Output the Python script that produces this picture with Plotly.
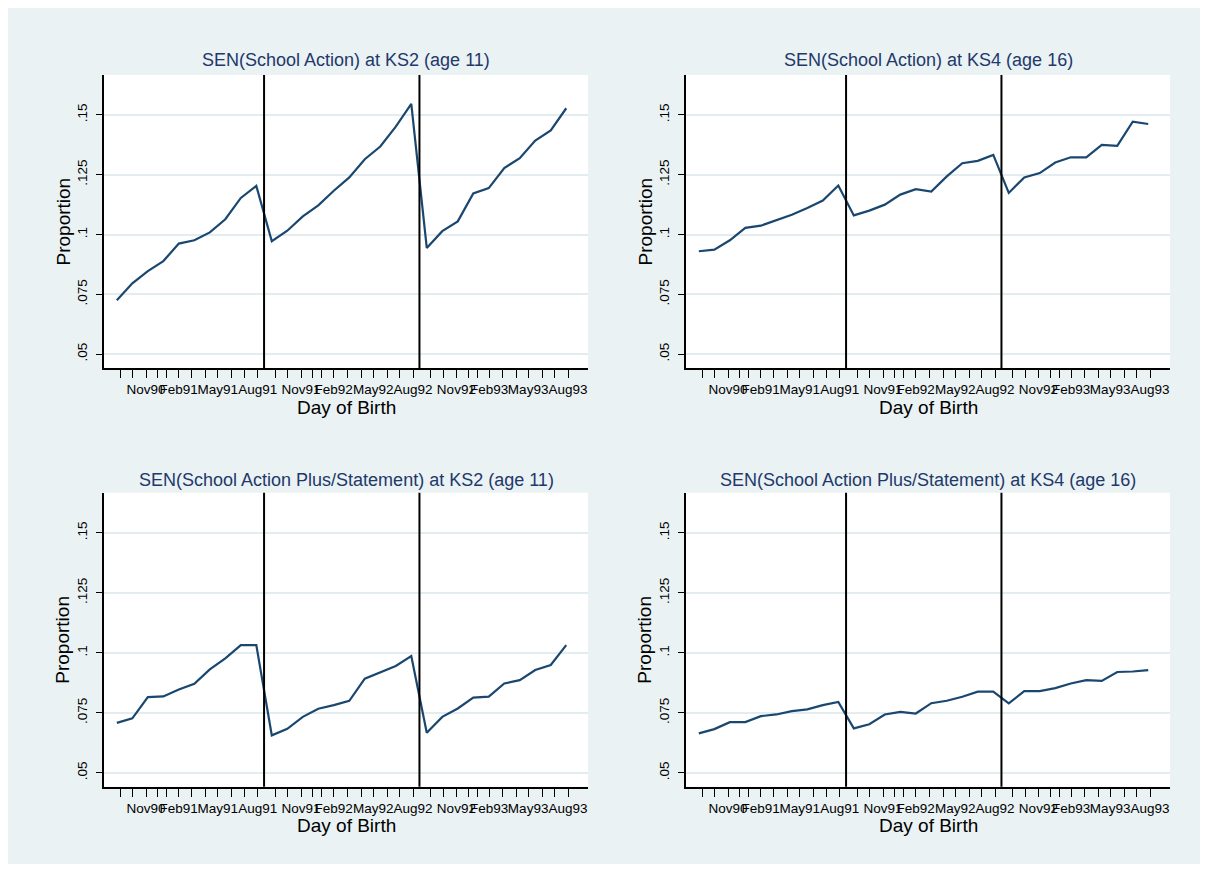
import pandas as pd
import plotly.graph_objects as go

# ---------------- data ----------------
panel_titles = [
    "SEN(School Action) at KS2 (age 11)",
    "SEN(School Action) at KS4 (age 16)",
    "SEN(School Action Plus/Statement) at KS2 (age 11)",
    "SEN(School Action Plus/Statement) at KS4 (age 16)",
]

# 30 birth-date bins (10 per academic year, Sep 1990 - Aug 1993)
bin_index = list(range(30))
period_start = "1990-09-01"
bins_per_year = 10

sa_ks2 = [0.0725, 0.0796, 0.0847, 0.0889, 0.0962, 0.0976, 0.1009, 0.1064, 0.1153, 0.1203,
          0.0972, 0.1016, 0.1076, 0.1122, 0.1183, 0.1239, 0.1315, 0.1368, 0.1451, 0.1546,
          0.0944, 0.1014, 0.1055, 0.1172, 0.1194, 0.1278, 0.1319, 0.1393, 0.1435, 0.1528]

sa_ks4 = [0.0930, 0.0937, 0.0976, 0.1028, 0.1037, 0.1060, 0.1083, 0.1111, 0.1142, 0.1205,
          0.1080, 0.1100, 0.1125, 0.1167, 0.1190, 0.1180, 0.1243, 0.1298, 0.1308, 0.1333,
          0.1174, 0.1239, 0.1257, 0.1301, 0.1323, 0.1323, 0.1375, 0.1371, 0.1472, 0.1462]

sap_ks2 = [0.0708, 0.0727, 0.0815, 0.0818, 0.0847, 0.0871, 0.0931, 0.0977, 0.1032, 0.1032,
           0.0656, 0.0683, 0.0733, 0.0767, 0.0782, 0.0800, 0.0892, 0.0917, 0.0945, 0.0986,
           0.0667, 0.0733, 0.0768, 0.0813, 0.0817, 0.0872, 0.0886, 0.0928, 0.0949, 0.1032]

sap_ks4 = [0.0664, 0.0682, 0.0711, 0.0711, 0.0736, 0.0743, 0.0757, 0.0764, 0.0782, 0.0795,
           0.0685, 0.0702, 0.0743, 0.0754, 0.0747, 0.0790, 0.0800, 0.0817, 0.0838, 0.0838,
           0.0789, 0.0840, 0.0840, 0.0853, 0.0872, 0.0886, 0.0883, 0.0920, 0.0922, 0.0928]

series = [sa_ks2, sa_ks4, sap_ks2, sap_ks4]

cohort_boundaries = ["1991-09-01", "1992-09-01"]

tick_dates = []
tick_labels = []
for yr in (1990, 1991, 1992):
    nx = yr + 1
    tick_dates += [f"{yr}-09-27", f"{yr}-10-27", f"{yr}-11-27", f"{yr}-12-25",
                   f"{nx}-01-15", f"{nx}-02-12", f"{nx}-03-15", f"{nx}-04-17",
                   f"{nx}-05-15", f"{nx}-06-17", f"{nx}-07-17", f"{nx}-08-17"]
    yy = str(yr)[-2:]
    ny = str(nx)[-2:]
    tick_labels += ["", "", f"Nov{yy}", "", "", f"Feb{ny}", "", "", f"May{ny}", "", "", f"Aug{ny}"]

y_tickvals = [0.05, 0.075, 0.1, 0.125, 0.15]
y_ticktext = [".05", ".075", ".1", ".125", ".15"]

x_title = "Day of Birth"
y_title = "Proportion"

# ---------------- figure ----------------
W, H = 1192, 856
start = pd.Timestamp(period_start)
days_per_bin = 365.0 / bins_per_year
x_dates = [start + pd.Timedelta(days=days_per_bin * (i + 0.5)) for i in bin_index]

x_range = [start - pd.Timedelta(days=12), start + pd.Timedelta(days=1128)]
y_range = [0.0442, 0.1667]

FONT = "Arial, Liberation Sans, Helvetica, sans-serif"
LINE = "#1A476F"
BG = "#EAF2F3"
TITLE_COL = "#22386B"

xdom = [[96 / W, 580 / W], [678 / W, 1162 / W]]
ydom = [[1 - 360 / H, 1 - 67 / H], [1 - 778.7 / H, 1 - 484.7 / H]]

fig = go.Figure()
layout = dict(
    width=W, height=H,
    margin=dict(l=0, r=0, t=0, b=0),
    paper_bgcolor=BG, plot_bgcolor="white",
    showlegend=False,
    font=dict(family=FONT, size=13, color="black"),
    template="none",
)
annotations = []
shapes = []

for k in range(4):
    r, c = divmod(k, 2)
    n = k + 1
    xa = "x" if n == 1 else f"x{n}"
    ya = "y" if n == 1 else f"y{n}"
    fig.add_trace(go.Scatter(x=x_dates, y=series[k], mode="lines",
                             line=dict(color=LINE, width=2.2),
                             xaxis=xa, yaxis=ya, hoverinfo="x+y"))
    xkey = "xaxis" if n == 1 else f"xaxis{n}"
    ykey = "yaxis" if n == 1 else f"yaxis{n}"
    layout[xkey] = dict(
        domain=xdom[c], anchor=ya, type="date", range=x_range,
        tickmode="array", tickvals=tick_dates, ticktext=tick_labels,
        tickangle=0,
        ticks="outside", ticklen=8, tickwidth=1.4, tickcolor="black",
        showgrid=False, zeroline=False,
        showline=True, linecolor="black", linewidth=1.6,
        tickfont=dict(size=13.5, color="black", family=FONT),
        automargin=False, fixedrange=True,
    )
    layout[ykey] = dict(
        domain=ydom[r], anchor=xa, range=y_range,
        tickmode="array", tickvals=y_tickvals, ticktext=y_ticktext,
        tickangle=-90, ticklabelstandoff=4,
        ticks="outside", ticklen=6, tickwidth=1.4, tickcolor="black",
        showgrid=True, gridcolor="#E3EDEF", gridwidth=2,
        zeroline=False,
        showline=True, linecolor="black", linewidth=1.6,
        tickfont=dict(size=13.5, color="black", family=FONT),
        automargin=False, fixedrange=True,
    )
    for b in cohort_boundaries:
        shapes.append(dict(type="line", xref=xa, yref=f"{ya} domain",
                           x0=b, x1=b, y0=0, y1=1,
                           line=dict(color="black", width=2)))
    xc = (xdom[c][0] + xdom[c][1]) / 2
    # panel title
    ty = (1 - 52 / H) if r == 0 else (1 - 472 / H)
    annotations.append(dict(text=panel_titles[k], x=xc, y=ty, xref="paper", yref="paper",
                            xanchor="center", yanchor="middle", showarrow=False,
                            font=dict(size=18, color=TITLE_COL, family=FONT)))
    # x title
    xy = (1 - 399 / H) if r == 0 else (1 - 817 / H)
    annotations.append(dict(text=x_title, x=xc, y=xy, xref="paper", yref="paper",
                            xanchor="center", yanchor="middle", showarrow=False,
                            font=dict(size=19, color="black", family=FONT)))
    # y title
    yx = (55 / W) if c == 0 else (637 / W)
    yc = (ydom[r][0] + ydom[r][1]) / 2
    annotations.append(dict(text=y_title, x=yx, y=yc, xref="paper", yref="paper",
                            xanchor="center", yanchor="middle", showarrow=False,
                            textangle=-90,
                            font=dict(size=19, color="black", family=FONT)))

layout["annotations"] = annotations
layout["shapes"] = shapes
fig.update_layout(**layout)

fig.write_html("out.html")
